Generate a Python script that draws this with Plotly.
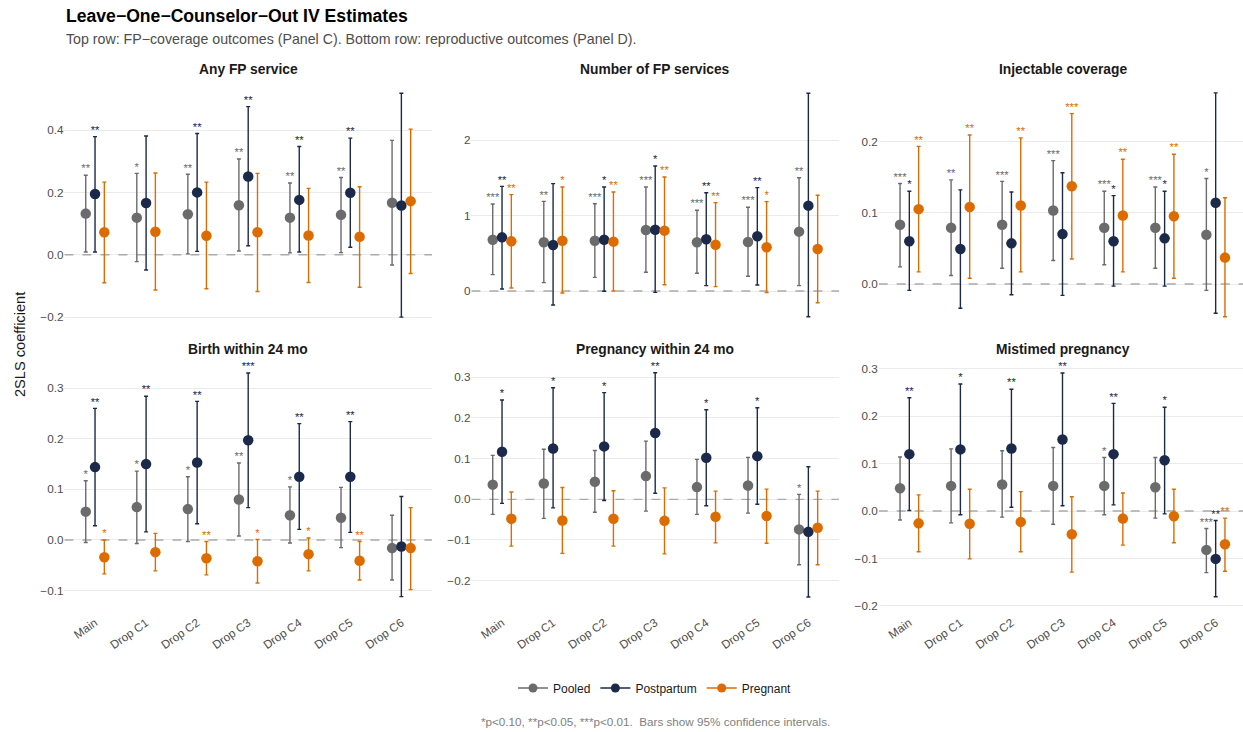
import plotly.graph_objects as go

W, H = 1243, 732
H_EFF = 728.0  # effective rendered height used for pixel -> paper conversion

categories = ["Main", "Drop C1", "Drop C2", "Drop C3", "Drop C4", "Drop C5", "Drop C6"]
series_names = ["Pooled", "Postpartum", "Pregnant"]
series_colors = ["#6b6b6b", "#1b2a4a", "#dd6c00"]
panel_titles = ["Any FP service", "Number of FP services", "Injectable coverage",
                "Birth within 24 mo", "Pregnancy within 24 mo", "Mistimed pregnancy"]

# ---- Panel C1: Any FP service
anyfp_pooled_est = [0.132, 0.119, 0.130, 0.159, 0.119, 0.128, 0.167]
anyfp_pooled_lo = [0.009, -0.022, 0.003, 0.012, 0.006, 0.007, -0.033]
anyfp_pooled_hi = [0.255, 0.261, 0.258, 0.307, 0.230, 0.248, 0.367]
anyfp_pooled_sig = ["**", "*", "**", "**", "**", "**", ""]
anyfp_post_est = [0.195, 0.166, 0.200, 0.251, 0.176, 0.199, 0.158]
anyfp_post_lo = [0.009, -0.049, 0.011, 0.029, 0.009, 0.024, -0.200]
anyfp_post_hi = [0.379, 0.381, 0.389, 0.475, 0.347, 0.374, 0.518]
anyfp_post_sig = ["**", "", "**", "**", "**", "**", ""]
anyfp_preg_est = [0.072, 0.074, 0.061, 0.072, 0.062, 0.058, 0.172]
anyfp_preg_lo = [-0.090, -0.113, -0.109, -0.118, -0.089, -0.104, -0.060]
anyfp_preg_hi = [0.233, 0.262, 0.233, 0.261, 0.213, 0.218, 0.403]
anyfp_preg_sig = ["", "", "", "", "", "", ""]

# ---- Panel C2: Number of FP services
nfp_pooled_est = [0.681, 0.646, 0.668, 0.810, 0.646, 0.650, 0.788]
nfp_pooled_lo = [0.217, 0.111, 0.181, 0.248, 0.235, 0.195, 0.071]
nfp_pooled_hi = [1.155, 1.190, 1.159, 1.381, 1.071, 1.111, 1.504]
nfp_pooled_sig = ["***", "**", "***", "***", "***", "***", "**"]
nfp_post_est = [0.712, 0.611, 0.681, 0.814, 0.686, 0.726, 1.133]
nfp_post_lo = [0.027, -0.186, -0.004, -0.018, 0.071, 0.080, -0.341]
nfp_post_hi = [1.389, 1.425, 1.381, 1.659, 1.305, 1.372, 2.624]
nfp_post_sig = ["**", "", "*", "*", "**", "**", ""]
nfp_preg_est = [0.659, 0.668, 0.655, 0.801, 0.615, 0.580, 0.558]
nfp_preg_lo = [0.040, -0.027, 0.000, 0.084, 0.058, -0.022, -0.155]
nfp_preg_hi = [1.279, 1.381, 1.314, 1.513, 1.173, 1.186, 1.270]
nfp_preg_sig = ["**", "*", "**", "**", "**", "*", ""]

# ---- Panel C3: Injectable coverage
inj_pooled_est = [0.083, 0.079, 0.083, 0.103, 0.079, 0.079, 0.069]
inj_pooled_lo = [0.024, 0.012, 0.022, 0.033, 0.027, 0.022, -0.009]
inj_pooled_hi = [0.141, 0.146, 0.144, 0.173, 0.130, 0.136, 0.148]
inj_pooled_sig = ["***", "**", "***", "***", "***", "***", "*"]
inj_post_est = [0.060, 0.049, 0.057, 0.070, 0.060, 0.064, 0.114]
inj_post_lo = [-0.009, -0.034, -0.015, -0.016, -0.003, -0.003, -0.041]
inj_post_hi = [0.130, 0.132, 0.129, 0.156, 0.124, 0.130, 0.268]
inj_post_sig = ["*", "", "", "", "*", "*", ""]
inj_preg_est = [0.105, 0.108, 0.110, 0.137, 0.096, 0.095, 0.037]
inj_preg_lo = [0.017, 0.008, 0.017, 0.035, 0.017, 0.008, -0.046]
inj_preg_hi = [0.193, 0.209, 0.205, 0.239, 0.175, 0.182, 0.121]
inj_preg_sig = ["**", "**", "**", "***", "**", "**", ""]

# ---- Panel D1: Birth within 24 mo
birth_pooled_est = [0.056, 0.065, 0.061, 0.080, 0.049, 0.044, -0.016]
birth_pooled_lo = [-0.005, -0.007, -0.003, 0.008, -0.006, -0.015, -0.079]
birth_pooled_hi = [0.117, 0.136, 0.125, 0.152, 0.105, 0.104, 0.049]
birth_pooled_sig = ["*", "*", "*", "**", "*", "", ""]
birth_post_est = [0.144, 0.150, 0.153, 0.197, 0.125, 0.125, -0.013]
birth_post_lo = [0.028, 0.016, 0.032, 0.064, 0.021, 0.015, -0.112]
birth_post_hi = [0.260, 0.284, 0.274, 0.330, 0.230, 0.234, 0.086]
birth_post_sig = ["**", "**", "**", "***", "**", "**", ""]
birth_preg_est = [-0.034, -0.024, -0.036, -0.042, -0.028, -0.041, -0.016]
birth_preg_lo = [-0.067, -0.061, -0.069, -0.085, -0.061, -0.079, -0.098]
birth_preg_hi = [0.000, 0.013, -0.003, 0.001, 0.004, -0.003, 0.064]
birth_preg_sig = ["*", "", "**", "*", "*", "**", ""]

# ---- Panel D2: Pregnancy within 24 mo
preg_pooled_est = [0.036, 0.039, 0.043, 0.057, 0.030, 0.034, -0.074]
preg_pooled_lo = [-0.037, -0.047, -0.032, -0.029, -0.037, -0.034, -0.161]
preg_pooled_hi = [0.108, 0.123, 0.120, 0.143, 0.098, 0.103, 0.012]
preg_pooled_sig = ["", "", "", "", "", "", "*"]
preg_post_est = [0.117, 0.125, 0.130, 0.163, 0.102, 0.106, -0.080]
preg_post_lo = [-0.010, -0.021, -0.003, 0.015, -0.016, -0.012, -0.240]
preg_post_hi = [0.244, 0.274, 0.262, 0.311, 0.220, 0.225, 0.080]
preg_post_sig = ["*", "*", "*", "**", "*", "*", ""]
preg_preg_est = [-0.048, -0.052, -0.048, -0.053, -0.043, -0.041, -0.070]
preg_preg_lo = [-0.115, -0.133, -0.115, -0.134, -0.107, -0.108, -0.161]
preg_preg_hi = [0.018, 0.029, 0.021, 0.028, 0.020, 0.025, 0.020]
preg_preg_sig = ["", "", "", "", "", "", ""]

# ---- Panel D3: Mistimed pregnancy
mis_pooled_est = [0.048, 0.053, 0.056, 0.053, 0.053, 0.050, -0.082]
mis_pooled_lo = [-0.019, -0.025, -0.013, -0.028, -0.008, -0.015, -0.130]
mis_pooled_hi = [0.114, 0.131, 0.127, 0.134, 0.113, 0.113, -0.037]
mis_pooled_sig = ["", "", "", "", "*", "", "***"]
mis_post_est = [0.120, 0.130, 0.132, 0.151, 0.120, 0.107, -0.101]
mis_post_lo = [0.001, -0.008, 0.008, 0.011, 0.013, -0.006, -0.181]
mis_post_hi = [0.239, 0.268, 0.257, 0.291, 0.227, 0.219, -0.020]
mis_post_sig = ["**", "*", "**", "**", "**", "*", "**"]
mis_preg_est = [-0.026, -0.027, -0.023, -0.049, -0.016, -0.011, -0.070]
mis_preg_lo = [-0.086, -0.101, -0.086, -0.129, -0.072, -0.067, -0.127]
mis_preg_hi = [0.034, 0.046, 0.041, 0.030, 0.038, 0.046, -0.015]
mis_preg_sig = ["", "", "", "", "", "", "**"]

# y-axis ticks per panel
anyfp_ticks = [-0.2, 0.0, 0.2, 0.4]
nfp_ticks = [0, 1, 2]
inj_ticks = [0.0, 0.1, 0.2]
birth_ticks = [-0.1, 0.0, 0.1, 0.2, 0.3]
preg_ticks = [-0.2, -0.1, 0.0, 0.1, 0.2, 0.3]
mis_ticks = [-0.2, -0.1, 0.0, 0.1, 0.2, 0.3]

panels = [
    [(anyfp_pooled_est, anyfp_pooled_lo, anyfp_pooled_hi, anyfp_pooled_sig),
     (anyfp_post_est, anyfp_post_lo, anyfp_post_hi, anyfp_post_sig),
     (anyfp_preg_est, anyfp_preg_lo, anyfp_preg_hi, anyfp_preg_sig)],
    [(nfp_pooled_est, nfp_pooled_lo, nfp_pooled_hi, nfp_pooled_sig),
     (nfp_post_est, nfp_post_lo, nfp_post_hi, nfp_post_sig),
     (nfp_preg_est, nfp_preg_lo, nfp_preg_hi, nfp_preg_sig)],
    [(inj_pooled_est, inj_pooled_lo, inj_pooled_hi, inj_pooled_sig),
     (inj_post_est, inj_post_lo, inj_post_hi, inj_post_sig),
     (inj_preg_est, inj_preg_lo, inj_preg_hi, inj_preg_sig)],
    [(birth_pooled_est, birth_pooled_lo, birth_pooled_hi, birth_pooled_sig),
     (birth_post_est, birth_post_lo, birth_post_hi, birth_post_sig),
     (birth_preg_est, birth_preg_lo, birth_preg_hi, birth_preg_sig)],
    [(preg_pooled_est, preg_pooled_lo, preg_pooled_hi, preg_pooled_sig),
     (preg_post_est, preg_post_lo, preg_post_hi, preg_post_sig),
     (preg_preg_est, preg_preg_lo, preg_preg_hi, preg_preg_sig)],
    [(mis_pooled_est, mis_pooled_lo, mis_pooled_hi, mis_pooled_sig),
     (mis_post_est, mis_post_lo, mis_post_hi, mis_post_sig),
     (mis_preg_est, mis_preg_lo, mis_preg_hi, mis_preg_sig)],
]
panel_ticks = [anyfp_ticks, nfp_ticks, inj_ticks, birth_ticks, preg_ticks, mis_ticks]
panel_fmt = [".1f", "d", ".1f", ".1f", ".1f", ".1f"]

# ---- layout geometry (pixels)
x_dom_px = [(64.4, 432.0), (471.4, 839.0), (878.7, 1243.0)]
x_ranges = [(-0.6, 6.6), (-0.6, 6.6), (-0.6, 6.6 - 3.3 / 51.07)]
y_dom_px = [(82.0, 328.0), (356.0, 608.0)]
y_ranges = [(-0.2349, 0.5541), (-0.491, 2.774), (-0.0617, 0.2833),
            (-0.1344, 0.3636), (-0.2671, 0.3521), (-0.2046, 0.3270)]
dodge = 0.182
FONT = "Liberation Sans, Arial, sans-serif"


def fy(px):
    return 1 - px / H_EFF


fig = go.Figure()
layout = dict(
    width=W, height=H, margin=dict(l=0, r=0, t=0, b=0),
    paper_bgcolor="white", plot_bgcolor="white",
    font=dict(family=FONT, color="#1a1a1a"),
    showlegend=True,
)
annotations = []

xpos = list(range(len(categories)))
for p in range(6):
    row, col = divmod(p, 3)
    ax = "" if p == 0 else str(p + 1)
    xa, ya = "x" + ax, "y" + ax
    x0p, x1p = x_dom_px[col]
    y0p, y1p = y_dom_px[row]
    layout["xaxis" + ax] = dict(
        domain=[x0p / W, x1p / W], range=list(x_ranges[col]), anchor=ya,
        tickmode="array", tickvals=xpos, ticktext=categories,
        showticklabels=(row == 1), tickangle=-35, showgrid=False, zeroline=False,
        showline=False, ticks="", ticklabelstandoff=5,
        tickfont=dict(size=11.7, color="#4d4d4d", family=FONT),
    )
    layout["yaxis" + ax] = dict(
        domain=[fy(y1p), fy(y0p)], range=list(y_ranges[p]), anchor=xa,
        tickmode="array", tickvals=panel_ticks[p], tickformat=panel_fmt[p],
        showgrid=True, gridcolor="#ebebeb", gridwidth=1.1, zeroline=False,
        showline=False, ticks="", tickfont=dict(size=11.7, color="#4d4d4d", family=FONT),
    )
    # dashed zero reference line (drawn under the points)
    fig.add_trace(go.Scatter(x=list(x_ranges[col]), y=[0, 0], mode="lines", xaxis=xa, yaxis=ya,
                             showlegend=False, hoverinfo="skip",
                             line=dict(color="#ababab", width=1.3, dash="dash")))
    annotations.append(dict(text="<b>" + panel_titles[p] + "</b>", xref="paper", yref="paper",
                            x=((x0p + (1246.3 if col == 2 else x1p)) / 2) / W,
                            y=fy(69 if row == 0 else 349),
                            xanchor="center", yanchor="middle", showarrow=False,
                            font=dict(size=13.8, color="#1a1a1a", family=FONT)))
    for s in range(3):
        est, lo, hi, sig = panels[p][s]
        xs = [i + (s - 1) * dodge for i in xpos]
        fig.add_trace(go.Scatter(
            x=xs, y=est, mode="markers", xaxis=xa, yaxis=ya, showlegend=False,
            marker=dict(size=10.5, color=series_colors[s]),
            error_y=dict(type="data", symmetric=False,
                         array=[h - e for h, e in zip(hi, est)],
                         arrayminus=[e - l for e, l in zip(est, lo)],
                         color=series_colors[s], thickness=1.4, width=2),
            hoverinfo="skip"))
        sx = [x for x, t in zip(xs, sig) if t]
        sy = [y for y, t in zip(hi, sig) if t]
        st = [t for t in sig if t]
        if st:
            fig.add_trace(go.Scatter(
                x=sx, y=sy, mode="text", text=st, textposition="top center",
                xaxis=xa, yaxis=ya, showlegend=False, hoverinfo="skip",
                textfont=dict(size=11.2, color=series_colors[s], family=FONT)))

# legend entries
for s in range(3):
    fig.add_trace(go.Scatter(x=[None], y=[None], mode="lines+markers", name=series_names[s],
                             line=dict(color=series_colors[s], width=1.6),
                             marker=dict(size=9, color=series_colors[s]),
                             xaxis="x", yaxis="y", showlegend=True))

layout["legend"] = dict(orientation="h", x=655 / W, y=fy(688), xanchor="center", yanchor="middle",
                        font=dict(size=12, color="#1a1a1a", family=FONT), itemwidth=30,
                        bgcolor="rgba(0,0,0,0)")

annotations += [
    dict(text="<b>Leave\u2212One\u2212Counselor\u2212Out IV Estimates</b>", xref="paper", yref="paper",
         x=64 / W, y=fy(16), xanchor="left", yanchor="middle", showarrow=False,
         font=dict(size=17.6, color="#000000", family=FONT)),
    dict(text="Top row: FP\u2212coverage outcomes (Panel C). Bottom row: reproductive outcomes (Panel D).",
         xref="paper", yref="paper", x=64 / W, y=fy(39), xanchor="left", yanchor="middle",
         showarrow=False, font=dict(size=14.2, color="#4d4d4d", family=FONT)),
    dict(text="2SLS coefficient", xref="paper", yref="paper", x=20 / W, y=fy(345),
         xanchor="center", yanchor="middle", textangle=-90, showarrow=False,
         font=dict(size=14.6, color="#1a1a1a", family=FONT)),
    dict(text="*p<0.10, **p<0.05, ***p<0.01.  Bars show 95% confidence intervals.",
         xref="paper", yref="paper", x=655 / W, y=fy(721), xanchor="center", yanchor="middle",
         showarrow=False, font=dict(size=11.7, color="#808080", family=FONT)),
]
layout["annotations"] = annotations
fig.update_layout(**layout)
fig.write_html("out.html")
